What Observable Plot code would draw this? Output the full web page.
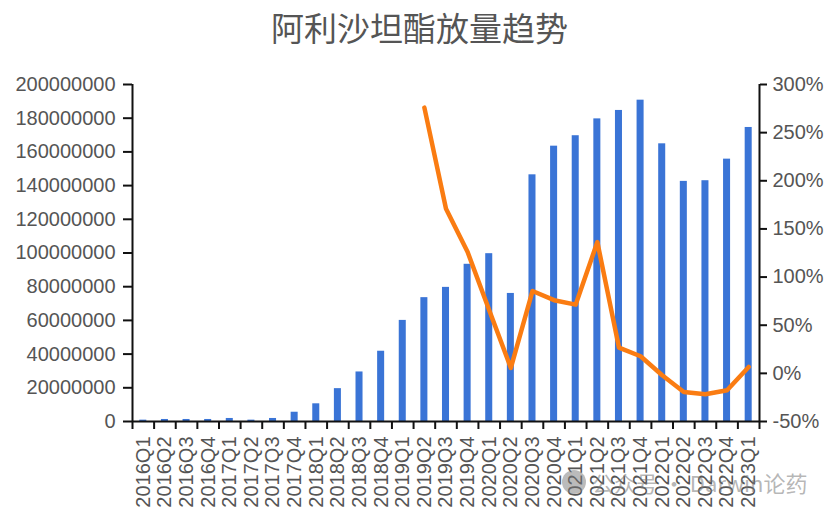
<!DOCTYPE html>
<html><head><meta charset="utf-8">
<script src="https://cdn.jsdelivr.net/npm/d3@7"></script>
<script src="https://cdn.jsdelivr.net/npm/@observablehq/plot@0.6"></script>
<style>
body{margin:0;background:#fff;font-family:"Liberation Sans",Arial,sans-serif;}
#wrap{position:relative;width:839px;height:517px;overflow:hidden;}
#title{height:60px;line-height:54px;text-align:center;font-family:"Noto Sans CJK SC",sans-serif;font-size:33px;color:#555;}
#wm{position:absolute;left:562px;top:466px;font-family:"Noto Sans CJK SC",sans-serif;font-size:22px;color:rgba(120,120,120,0.55);white-space:nowrap;display:flex;align-items:center;gap:6px;}
#wm .ic{width:24px;height:24px;border-radius:50%;background:rgba(120,120,120,0.5);}
</style></head>
<body><div id="wrap"><div id="title">阿利沙坦酯放量趋势</div><div id="chart"></div><div id="wm"><span class="ic"></span><span>公众号 · Darwin论药</span></div></div>
<script>
const quarters = ["2016Q1","2016Q2","2016Q3","2016Q4","2017Q1","2017Q2","2017Q3","2017Q4",
  "2018Q1","2018Q2","2018Q3","2018Q4","2019Q1","2019Q2","2019Q3","2019Q4",
  "2020Q1","2020Q2","2020Q3","2020Q4","2021Q1","2021Q2","2021Q3","2021Q4",
  "2022Q1","2022Q2","2022Q3","2022Q4","2023Q1"];
const volume = [800000,1200000,1200000,1200000,1800000,800000,1800000,5500000,
  10500000,19500000,29400000,41700000,60000000,73500000,79600000,93300000,
  99600000,76000000,146400000,163400000,169600000,179600000,184600000,190700000,
  164800000,142500000,142900000,155700000,174500000];
const growth = [null,null,null,null,null,null,null,null,null,null,null,null,null,
  276,171,126,65.5,5.6,85.5,76,71.4,136.4,26.8,17.8,-2,-19.3,-21.7,-17.5,6.7];
const leftTicks = [0,20000000,40000000,60000000,80000000,100000000,120000000,140000000,160000000,180000000,200000000];
const rightTicks = [-50,0,50,100,150,200,250,300];

const W = 839, H = 457, mL = 132, mR = 80, mT = 24, mB = 96;
const step = (W - mL - mR) / quarters.length;
const yMax = 200000000, pMin = -50, pMax = 300;
const toY = p => (p - pMin) / (pMax - pMin) * yMax;
const fromY = v => v / yMax * (pMax - pMin) + pMin;

const bars = quarters.map((q, i) => ({q, v: volume[i]}));
const line = quarters.map((q, i) => ({q, g: growth[i]})).filter(d => d.g != null);

const chart = Plot.plot({
  width: W, height: H, marginLeft: mL, marginRight: mR, marginTop: mT, marginBottom: mB,
  style: {fontSize: "20px", fontFamily: "Liberation Sans, Arial, sans-serif", color: "#555", background: "transparent"},
  x: {domain: quarters, padding: 0, round: false, label: null, axis: null},
  y: {domain: [0, yMax], label: null, axis: null},
  marks: [
    Plot.barY(bars, {x: "q", y: "v", fill: "#3a74d6", insetLeft: 7.3, insetRight: 7.3}),
    Plot.line(line, {x: "q", y: d => toY(d.g), stroke: "#fa7c12", strokeWidth: 4.5, strokeLinejoin: "round", strokeLinecap: "round"}),
    Plot.ruleY([0], {stroke: "#111", strokeWidth: 2}),
    Plot.ruleX([quarters[0]], {dx: -step / 2, stroke: "#111", strokeWidth: 2}),
    Plot.ruleX([quarters[quarters.length - 1]], {dx: step / 2, stroke: "#111", strokeWidth: 2}),
    Plot.axisY(leftTicks, {anchor: "left", tickSize: 9, tickPadding: 8, tickFormat: d => String(d), stroke: "#111", strokeWidth: 2, fill: "#555", label: null}),
    Plot.axisY(rightTicks.map(toY), {anchor: "right", tickSize: 7, tickPadding: 6, tickFormat: v => Math.round(fromY(v)) + "%", stroke: "#111", strokeWidth: 2, fill: "#555", label: null}),
    Plot.axisX(quarters, {anchor: "bottom", tickSize: 8, tickFormat: () => "", dx: -step / 2, stroke: "#111", strokeWidth: 2, label: null}),
    Plot.axisX([quarters[quarters.length - 1]], {anchor: "bottom", tickSize: 8, tickFormat: () => "", dx: step / 2, stroke: "#111", strokeWidth: 2, label: null}),
    Plot.axisX(quarters, {anchor: "bottom", tickSize: 0, tickPadding: 15, tickRotate: -90, fill: "#555", label: null})
  ]
});
document.getElementById("chart").appendChild(chart);
</script></body></html>
